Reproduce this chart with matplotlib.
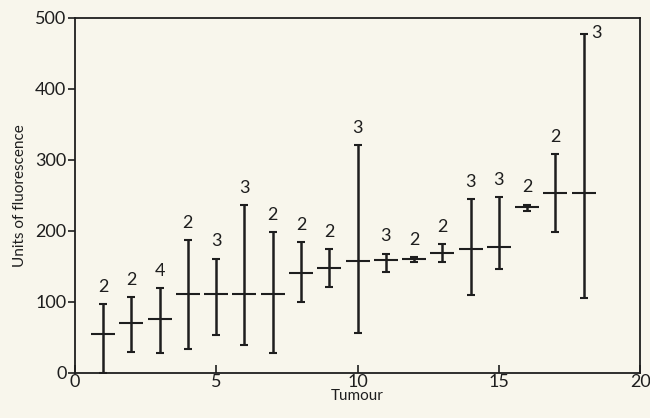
import matplotlib.pyplot as plt
import numpy as np

# tumour number, mean, low end, high end of bar, and sample count shown above it
tumour = [1, 2, 3, 4, 5, 6, 7, 8, 9, 10, 11, 12, 13, 14, 15, 16, 17, 18]
mean = [55, 70, 76, 111, 111, 111, 111, 140, 148, 157, 159, 160, 169, 175, 177, 233, 253, 253]
low = [0, 30, 28, 33, 53, 39, 28, 100, 121, 56, 142, 156, 156, 109, 146, 228, 199, 106]
high = [97, 107, 119, 187, 161, 236, 198, 184, 174, 321, 168, 163, 181, 245, 248, 237, 308, 477]
counts = ['2', '2', '4', '2', '3', '3', '2', '2', '2', '3', '3', '2', '2', '3', '3', '2', '2', '3']

ink = '#1e1e1e'
paper = '#f8f6ec'
plt.rcParams['font.family'] = ['Lato', 'DejaVu Sans']

fig = plt.figure(figsize=(6.5, 4.18), dpi=100, facecolor=paper)
ax = fig.add_axes([0.115, 0.108, 0.87, 0.849], facecolor=paper)

mean = np.array(mean)
yerr = [mean - np.array(low), np.array(high) - mean]
ax.errorbar(tumour, mean, yerr=yerr, fmt='_', color=ink, ms=17, mew=1.5,
            elinewidth=1.8, capsize=3, capthick=1.8)

for x, h, c in zip(tumour, high, counts):
    if x == 18:
        ax.text(x + 0.25, h + 2, c, ha='left', va='center', fontsize=13, color=ink)
    else:
        ax.text(x, h + 13, c, ha='center', va='bottom', fontsize=13, color=ink)

ax.set_xlim(0, 20)
ax.set_ylim(0, 500)
ax.set_xticks([0, 5, 10, 15, 20])
ax.set_yticks([0, 100, 200, 300, 400, 500])
ax.tick_params(axis='x', direction='in', length=6, width=1.2, colors=ink,
               labelsize=13, pad=1)
ax.tick_params(axis='y', direction='out', length=5, width=1.2, colors=ink,
               labelsize=13, pad=1)
for s in ax.spines.values():
    s.set_linewidth(1.3)
    s.set_color(ink)

ax.set_xlabel('Tumour', fontsize=11, color=ink, labelpad=-1)
ax.set_ylabel('Units of fluorescence', fontsize=11, color=ink, labelpad=6)

fig.savefig('out.png', dpi=100, facecolor=paper)
